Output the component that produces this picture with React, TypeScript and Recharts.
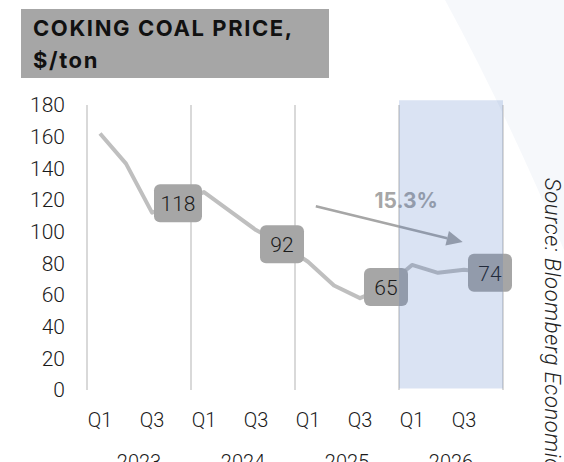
import { Line, LineChart, LabelList, ReferenceArea, ReferenceLine, XAxis, YAxis } from "recharts";

const FONT = "Roboto, 'Noto Sans', sans-serif";
const TITLE_FONT = "Inter, 'Noto Sans', sans-serif";
const INK = "#1a1a1a";
const LINE_GREY = "#bfbfbf";
const BOX_GREY = "#a6a6a6";
const GRID = "#d9d9d9";

const QUARTERS = ["Q1", "Q2", "Q3", "Q4"];
const YEARS = ["2023", "2024", "2025", "2026"];
// quarterly coking coal price, $/ton (2026 = forecast)
const PRICE = [162, 143, 112, 118, 125, 113, 101, 92, 81, 66, 58, 65, 79, 74, 76, 74];
const Y_TICKS = [0, 20, 40, 60, 80, 100, 120, 140, 160, 180];
const FORECAST_YEAR = "2026";
const CHANGE_LABEL = "15.3%";
// arrow annotation endpoints, in (quarter index, price) units
const ARROW_FROM = { x: 8.3, y: 116 };
const ARROW_TO = { x: 13.95, y: 93.5 };

const data = PRICE.map((price, i) => ({
  i,
  quarter: QUARTERS[i % 4],
  year: YEARS[Math.floor(i / 4)],
  price,
  tag: QUARTERS[i % 4] === "Q4" ? price : null,
}));

const qTicks = data.filter((d) => d.i % 2 === 0).map((d) => d.i);
const yearTicks = YEARS.map((_, k) => k * 4 + 1.5);
const yearBounds = [...YEARS.map((_, k) => k * 4 - 0.5), YEARS.length * 4 - 0.5];
const fcStart = YEARS.indexOf(FORECAST_YEAR) * 4 - 0.5;

const tickStyle = { fill: INK, fontSize: 20, fontFamily: FONT, fontWeight: 300 };

/** rounded grey value box centred on the point */
function ValueBox(props: any) {
  const { x, y, value } = props;
  if (value == null) return null;
  const w = String(value).length * 4 + 36;
  return (
    <g>
      <rect x={x - w / 2} y={y - 19} width={w} height={38} rx={6} fill={BOX_GREY} />
      <text
        x={x}
        y={y + 1}
        textAnchor="middle"
        dominantBaseline="central"
        fontFamily={FONT}
        fontSize={21}
        fontWeight={300}
        fill={INK}
      >
        {value}
      </text>
    </g>
  );
}

function Arrow(props: any) {
  const { x1, y1, x2, y2 } = props;
  const ang = Math.atan2(y2 - y1, x2 - x1);
  const len = 16;
  const half = 7.5;
  const bx = x2 - len * Math.cos(ang);
  const by = y2 - len * Math.sin(ang);
  const px = -Math.sin(ang) * half;
  const py = Math.cos(ang) * half;
  const mx = (x1 + x2) / 2;
  const my = (y1 + y2) / 2;
  return (
    <g>
      <line x1={x1} y1={y1} x2={bx} y2={by} stroke={BOX_GREY} strokeWidth={2.5} />
      <polygon points={`${x2},${y2} ${bx + px},${by + py} ${bx - px},${by - py}`} fill={BOX_GREY} />
      <text
        x={mx + 17}
        y={my - 24}
        textAnchor="middle"
        dominantBaseline="central"
        fontFamily={TITLE_FONT}
        fontSize={21}
        fontWeight={700}
        fill={BOX_GREY}
      >
        {CHANGE_LABEL}
      </text>
    </g>
  );
}

export default function App() {
  return (
    <div style={{ position: "absolute", left: 0, top: 0, width: 564, height: 462, background: "#fff", overflow: "hidden" }}>
      <svg width={564} height={462} style={{ position: "absolute", left: 0, top: 0 }}>
        <path d="M 445 0 Q 505 110 564 250 L 564 0 Z" fill="#f6f8fb" />
      </svg>
      <div style={{ position: "absolute", left: 0, top: 0 }}>
        <LineChart width={564} height={462} data={data} margin={{ top: 105, right: 61, bottom: 0, left: 0 }}>
          <XAxis
            dataKey="i"
            type="number"
            domain={[-0.5, 15.5]}
            ticks={qTicks}
            tickFormatter={(v) => QUARTERS[v % 4]}
            axisLine={false}
            tickLine={false}
            tickSize={0}
            tickMargin={23}
            height={50}
            interval={0}
            tick={tickStyle}
          />
          <XAxis
            xAxisId="year"
            dataKey="i"
            type="number"
            domain={[-0.5, 15.5]}
            ticks={yearTicks}
            tickFormatter={(v) => YEARS[Math.round((v - 1.5) / 4)]}
            axisLine={false}
            tickLine={false}
            tickSize={0}
            tickMargin={15}
            height={22}
            interval={0}
            tick={tickStyle}
          />
          <YAxis
            domain={[0, 180]}
            ticks={Y_TICKS}
            width={87}
            axisLine={false}
            tickLine={false}
            tickSize={0}
            tickMargin={22}
            interval={0}
            tick={{ ...tickStyle, fontSize: 21 }}
          />
          {yearBounds.map((b) => (
            <ReferenceLine key={b} x={b} stroke={GRID} strokeWidth={2} zIndex={-100} />
          ))}
          <Line
            dataKey="price"
            stroke={LINE_GREY}
            strokeWidth={4}
            strokeLinejoin="round"
            dot={false}
            activeDot={false}
            isAnimationActive={false}
          >
            <LabelList dataKey="tag" content={<ValueBox />} />
          </Line>
          <ReferenceLine segment={[ARROW_FROM, ARROW_TO]} shape={<Arrow />} ifOverflow="visible" zIndex={1500} />
          <ReferenceArea
            x1={fcStart}
            x2={15.5}
            y1={1}
            y2={183}
            fill="rgb(68,114,196)"
            fillOpacity={0.2}
            stroke="none"
            ifOverflow="visible"
            zIndex={2500}
          />
        </LineChart>
      </div>
      <div
        style={{
          position: "absolute",
          left: 21,
          top: 9,
          width: 296,
          height: 66,
          paddingLeft: 12,
          paddingTop: 3,
          background: BOX_GREY,
          fontFamily: TITLE_FONT,
          fontWeight: 700,
          fontSize: 22,
          letterSpacing: 1.6,
          lineHeight: "32px",
          color: "#111",
        }}
      >
        COKING COAL PRICE,
        <br />
        $/ton
      </div>
      <div
        style={{
          position: "absolute",
          left: 541,
          top: 178,
          writingMode: "vertical-rl",
          fontFamily: FONT,
          fontStyle: "italic",
          fontWeight: 300,
          fontSize: 22,
          letterSpacing: 0.6,
          lineHeight: "22px",
          color: "#222",
          whiteSpace: "nowrap",
        }}
      >
        Source: Bloomberg Economics
      </div>
    </div>
  );
}
